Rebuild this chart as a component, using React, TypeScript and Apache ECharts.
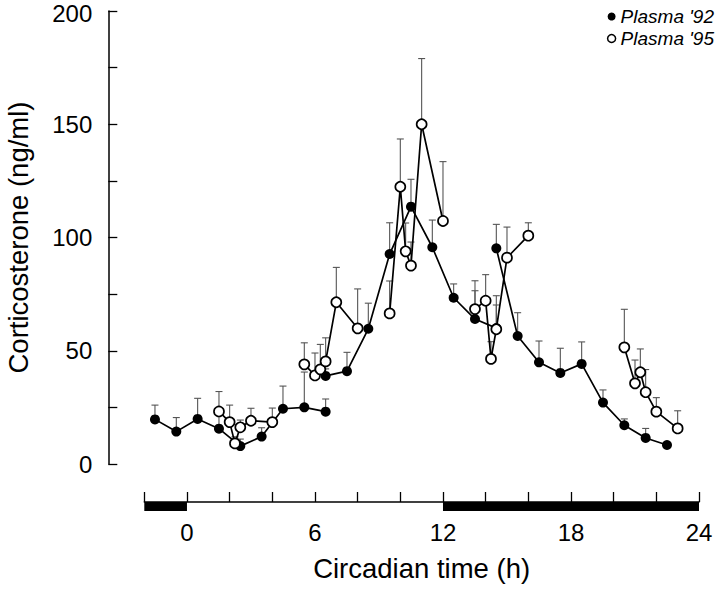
import React, { useEffect, useRef } from 'react';
import * as echarts from 'echarts';

const FONT = '"Liberation Sans", Arial, Helvetica, sans-serif';

// Circadian time (h), mean corticosterone (ng/ml), top of error bar (mean + SEM)
// Plasma '92 (filled circles), three runs
const hours92a = [-1.5, -0.5, 0.5, 1.5, 2.5, 3.5, 4.5, 5.5, 6.5];
const mean92a = [19.7, 14.3, 19.9, 15.6, 7.9, 12.1, 24.4, 25.0, 23.1];
const upper92a = [26, 20.5, 29, 22, 11, 16, 34.4, 40.6, 28.7];

const hours92b = [6.5, 7.5, 8.5, 9.5, 10.5, 11.5, 12.5, 13.5, 14.5];
const mean92b = [38.9, 41.0, 59.7, 92.7, 113.6, 95.7, 73.4, 64.0, 60.0];
const upper92b = [42, 49.3, 71, 106.5, 125.7, 107.7, 79.5, 76.5, 70.2];

const hours92c = [14.5, 15.5, 16.5, 17.5, 18.5, 19.5, 20.5, 21.5, 22.5];
const mean92c = [95.2, 56.5, 44.9, 40.2, 44.2, 27.1, 17.1, 11.5, 8.4];
const upper92c = [105.8, 66.8, 54.3, 51.1, 53.9, 32.7, 19.9, 15.7, 8.4];

// Plasma '95 (open circles), five runs
const hours95a = [1.5, 2.0, 2.25, 2.5, 3.0, 4.0];
const mean95a = [23.2, 18.5, 9.1, 16.2, 19.1, 18.5];
const upper95a = [32, 26, 12, 19.4, 24.6, 24.7];

const hours95b = [5.5, 6.0, 6.25, 6.5, 7.0, 8.0];
const mean95b = [44.0, 39.1, 41.8, 45.3, 71.4, 59.9];
const upper95b = [53.5, 49, 52.8, 55.7, 86.8, 77.3];

const hours95c = [9.5, 10.0, 10.25, 10.5, 11.0, 12.0];
const mean95c = [66.5, 122.4, 93.9, 87.6, 150.0, 107.3];
const upper95c = [80.8, 143.5, 106.4, 98, 179, 133.5];

const hours95d = [13.5, 14.0, 14.25, 14.5, 15.0, 16.0];
const mean95d = [68.4, 72.1, 46.4, 59.5, 91.1, 100.8];
const upper95d = [80.9, 83.6, 54, 74.3, 104.6, 106.5];

const hours95e = [20.5, 21.0, 21.25, 21.5, 22.0, 23.0];
const mean95e = [51.5, 35.6, 40.5, 31.7, 23.1, 15.7];
const upper95e = [68.3, 45.9, 50.8, 41.7, 29.3, 23.5];

// Light/dark schedule (dark phases)
const darkStart = [-2, 12];
const darkEnd = [0, 24];

const xLabelValues = [0, 6, 12, 18, 24];
const yLabelValues = [0, 50, 100, 150, 200];

const NAME92 = "Plasma '92";
const NAME95 = "Plasma '95";

const X_OFFSET = 38;

const segs92 = [
  [hours92a, mean92a, upper92a],
  [hours92b, mean92b, upper92b],
  [hours92c, mean92c, upper92c],
];
const segs95 = [
  [hours95a, mean95a, upper95a],
  [hours95b, mean95b, upper95b],
  [hours95c, mean95c, upper95c],
  [hours95d, mean95d, upper95d],
  [hours95e, mean95e, upper95e],
];

function errData(segs: number[][][]) {
  const out: number[][] = [];
  segs.forEach(([h, m, u]) => h.forEach((x, i) => out.push([x, m[i], u[i]])));
  return out;
}

function errSeries(segs: number[][][], z: number) {
  return {
    type: 'custom',
    data: errData(segs),
    encode: { x: 0, y: [1, 2] },
    z,
    silent: true,
    renderItem: (params: any, api: any) => {
      const x = api.value(0);
      const lo = api.value(1);
      const hi = api.value(2);
      if (!(hi > lo)) return null;
      const p1 = api.coord([x, lo]);
      const p2 = api.coord([x, hi]);
      const st = { stroke: '#555', lineWidth: 1.1 };
      return {
        type: 'group',
        children: [
          { type: 'line', shape: { x1: p1[0], y1: p1[1], x2: p2[0], y2: p2[1] }, style: st },
          { type: 'line', shape: { x1: p2[0] - 3.5, y1: p2[1], x2: p2[0] + 3.5, y2: p2[1] }, style: st },
        ],
      };
    },
  };
}

function lineSeries(segs: number[][][], name: string, open: boolean, z: number) {
  return segs.map(([h, m]) => ({
    type: 'line',
    name,
    data: h.map((x, i) => [x, m[i]]),
    symbol: 'circle',
    symbolSize: 10,
    showAllSymbol: true,
    z,
    lineStyle: { color: '#000', width: 1.7 },
    itemStyle: open
      ? { color: '#fff', borderColor: '#000', borderWidth: 1.7 }
      : { color: '#000', borderColor: '#000', borderWidth: 0 },
    emphasis: { disabled: true },
  }));
}

const legendBase = {
  orient: 'vertical',
  right: 1,
  itemWidth: 8,
  itemHeight: 8,
  selectedMode: false,
  textStyle: { fontFamily: FONT, fontSize: 19, fontStyle: 'italic', color: '#000' },
};

export default function App() {
  const ref = useRef<HTMLDivElement>(null);
  useEffect(() => {
    document.body.style.margin = '0';
    const chart = echarts.init(ref.current!, null, { renderer: 'svg' });
    const option: any = {
      animation: false,
      backgroundColor: '#fff',
      textStyle: { fontFamily: FONT, color: '#000' },
      legend: [
        {
          ...legendBase,
          top: 2,
          data: [{ name: NAME92, icon: 'circle', itemStyle: { color: '#000', borderWidth: 0 } }],
        },
        {
          ...legendBase,
          top: 24,
          data: [{ name: NAME95, icon: 'circle', itemStyle: { color: '#fff', borderColor: '#000', borderWidth: 1.5 } }],
        },
      ],
      grid: { left: 144.3, right: 21, top: 11, bottom: 125, outerBoundsMode: 'none' },
      xAxis: {
        type: 'value',
        min: -2,
        max: 24,
        interval: 2,
        offset: X_OFFSET,
        axisLine: { show: true, onZero: false, lineStyle: { color: '#000', width: 1.5 } },
        axisTick: { show: true, inside: true, length: 10, lineStyle: { color: '#000', width: 1.3 } },
        axisLabel: {
          formatter: (v: number) => (xLabelValues.includes(v) ? String(v) : ''),
          fontSize: 24,
          color: '#000',
          margin: 18,
          fontFamily: FONT,
        },
        splitLine: { show: false },
        name: 'Circadian time (h)',
        nameLocation: 'middle',
        nameGap: 52,
        nameTextStyle: { fontSize: 27.5, color: '#000', fontFamily: FONT },
      },
      yAxis: {
        type: 'value',
        min: 0,
        max: 200,
        interval: 25,
        offset: 36,
        axisLine: { show: true, onZero: false, lineStyle: { color: '#000', width: 1.5 } },
        axisTick: { show: true, inside: true, length: 9, lineStyle: { color: '#000', width: 1.3 } },
        axisLabel: {
          formatter: (v: number) =>
            v === 200 ? '{t|200}' : yLabelValues.includes(v) ? String(v) : '',
          fontSize: 24,
          lineHeight: 18,
          color: '#000',
          margin: 16,
          fontFamily: FONT,
          rich: { t: { fontSize: 24, lineHeight: 14, padding: [4, 0, 0, 0], fontFamily: FONT, color: '#000' } },
        },
        splitLine: { show: false },
        name: 'Corticosterone (ng/ml)',
        nameLocation: 'middle',
        nameGap: 76,
        nameTextStyle: { fontSize: 27.5, color: '#000', fontFamily: FONT },
      },
      series: [
        {
          type: 'custom',
          data: darkStart.map((s, i) => [s, darkEnd[i], 0]),
          encode: { x: [0, 1], y: 2 },
          clip: false,
          silent: true,
          z: 1,
          renderItem: (params: any, api: any) => {
            const a = api.coord([api.value(0), 0]);
            const b = api.coord([api.value(1), 0]);
            return {
              type: 'rect',
              shape: { x: a[0], y: a[1] + X_OFFSET, width: b[0] - a[0], height: 9 },
              style: { fill: '#000' },
            };
          },
        },
        errSeries(segs92, 2),
        errSeries(segs95, 2),
        ...lineSeries(segs92, NAME92, false, 3),
        ...lineSeries(segs95, NAME95, true, 4),
      ],
    };
    chart.setOption(option);
    return () => chart.dispose();
  }, []);
  return <div ref={ref} style={{ width: 720, height: 589 }} />;
}
